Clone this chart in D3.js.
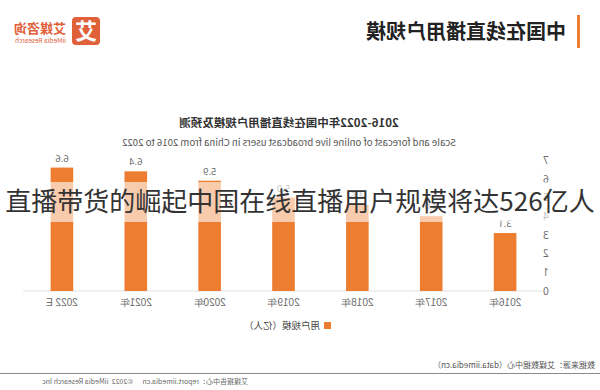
<!DOCTYPE html>
<html>
<head>
<meta charset="utf-8">
<script src="https://cdn.jsdelivr.net/npm/d3@7"></script>
<style>
  body { margin: 0; background: #fff; }
  svg { display: block; font-family: "Noto Sans CJK SC", "Noto Sans", sans-serif; }
</style>
</head>
<body>
<svg id="chart" width="600" height="390"></svg>
<script>
// data (the source image is mirrored left-right)
var years = ["2016年", "2017年", "2018年", "2019年", "2020年", "2021年", "2022 E"];
var users = [3.1, 4.0, 4.6, 5.0, 5.9, 6.4, 6.6];
var yTicks = [0, 1, 2, 3, 4, 5, 6, 7];

var pageTitle = "中国在线直播用户规模";
var chartTitle = "2016-2022年中国在线直播用户规模及预测";
var chartSubtitle = "Scale and forecast of online live broadcast users in China from 2016 to 2022";
var legendLabel = "用户规模（亿人）";
var sourceText = "数据来源：艾媒数据中心（data.iimedia.cn）";
var footerText = "艾媒报告中心：report.iimedia.cn      ©2022  iiMedia Research Inc";
var caption = "直播带货的崛起中国在线直播用户规模将达526亿人";

var orange = "#ed7d31";
var grey = "#6b6b6b";

var svg = d3.select("#chart");

// everything except the caption is drawn flipped, like the reference
var g = svg.append("g").attr("transform", "translate(600,0) scale(-1,1)");

// header
g.append("rect").attr("x", 20).attr("y", 15).attr("width", 3).attr("height", 33).attr("fill", orange);
g.append("text").attr("x", 34).attr("y", 39)
    .attr("font-size", 20).attr("font-weight", "bold").attr("fill", "#222")
    .text(pageTitle);

// logo
g.append("rect").attr("x", 500).attr("y", 17).attr("width", 28).attr("height", 28).attr("rx", 4).attr("fill", "#e0603a");
g.append("text").attr("x", 514).attr("y", 39).attr("text-anchor", "middle")
    .attr("font-size", 22).attr("font-weight", "bold").attr("fill", "#fff").text("艾");
g.append("text").attr("x", 534).attr("y", 33)
    .attr("font-size", 13).attr("font-weight", "bold").attr("fill", "#e0603a").text("艾媒咨询");
g.append("text").attr("x", 534).attr("y", 43)
    .attr("font-size", 6.5).attr("fill", "#e0603a").text("iiMedia Research");

// chart titles
g.append("text").attr("x", 311).attr("y", 127).attr("text-anchor", "middle")
    .attr("font-size", 11.5).attr("font-weight", "bold").attr("fill", "#333")
    .text(chartTitle);
g.append("text").attr("x", 311).attr("y", 146).attr("text-anchor", "middle")
    .attr("font-size", 9.6).attr("fill", "#555")
    .text(chartSubtitle);

// scales
var x = d3.scaleBand().domain(years).range([58, 575]).paddingInner(0.694).paddingOuter(0.347);
var y = d3.scaleLinear().domain([0, 7]).range([291, 160.1]);

// y axis labels, no line
var yAxis = g.append("g").attr("transform", "translate(54,0)")
    .call(d3.axisLeft(y).tickValues(yTicks).tickFormat(d3.format("d")).tickSize(0).tickPadding(0));
yAxis.select(".domain").remove();
yAxis.selectAll("text").attr("font-size", 10).attr("fill", grey).attr("text-anchor", "middle")
    .attr("font-family", "Noto Sans, sans-serif");

// baseline
g.append("line").attr("x1", 58).attr("x2", 577).attr("y1", y(0)).attr("y2", y(0))
    .attr("stroke", "#e2e2e2").attr("stroke-width", 1);

// bars
g.selectAll(".bar").data(users).enter().append("rect")
    .attr("class", "bar")
    .attr("x", function (d, i) { return x(years[i]); })
    .attr("y", function (d) { return y(d); })
    .attr("width", x.bandwidth())
    .attr("height", function (d) { return y(0) - y(d); })
    .attr("fill", orange);

// value labels
g.selectAll(".val").data(users).enter().append("text")
    .attr("class", "val")
    .attr("x", function (d, i) { return x(years[i]) + x.bandwidth() / 2; })
    .attr("y", function (d) { return y(d) - 6; })
    .attr("text-anchor", "middle").attr("font-size", 9.5).attr("fill", grey)
    .attr("font-family", "Noto Sans, sans-serif")
    .text(function (d) { return d.toFixed(1); });

// x axis labels
var xAxis = g.append("g").attr("transform", "translate(0," + y(0) + ")")
    .call(d3.axisBottom(x).tickSize(0).tickPadding(8));
xAxis.select(".domain").remove();
xAxis.selectAll("text").attr("font-size", 10).attr("fill", grey);

// legend
g.append("rect").attr("x", 269).attr("y", 322).attr("width", 7).attr("height", 7).attr("fill", orange);
g.append("text").attr("x", 280).attr("y", 329).attr("font-size", 9.5).attr("fill", "#444").text(legendLabel);

// source + footer
g.append("text").attr("x", 5).attr("y", 368).attr("font-size", 8).attr("fill", "#555").text(sourceText);
g.append("line").attr("x1", 0).attr("x2", 600).attr("y1", 373.5).attr("y2", 373.5)
    .attr("stroke", "#8a8a8a").attr("stroke-width", 1);
g.append("text").attr("x", 352).attr("y", 384).attr("font-size", 7).attr("fill", "#666")
    .attr("xml:space", "preserve").text(footerText);

// caption band over the chart, not mirrored
svg.append("rect").attr("x", 0).attr("y", 182).attr("width", 600).attr("height", 40)
    .attr("fill", "#fff").attr("fill-opacity", 0.6);
svg.append("text").attr("x", 300).attr("y", 211).attr("text-anchor", "middle")
    .attr("font-size", 26).attr("fill", "#333")
    .text(caption);
</script>
</body>
</html>
